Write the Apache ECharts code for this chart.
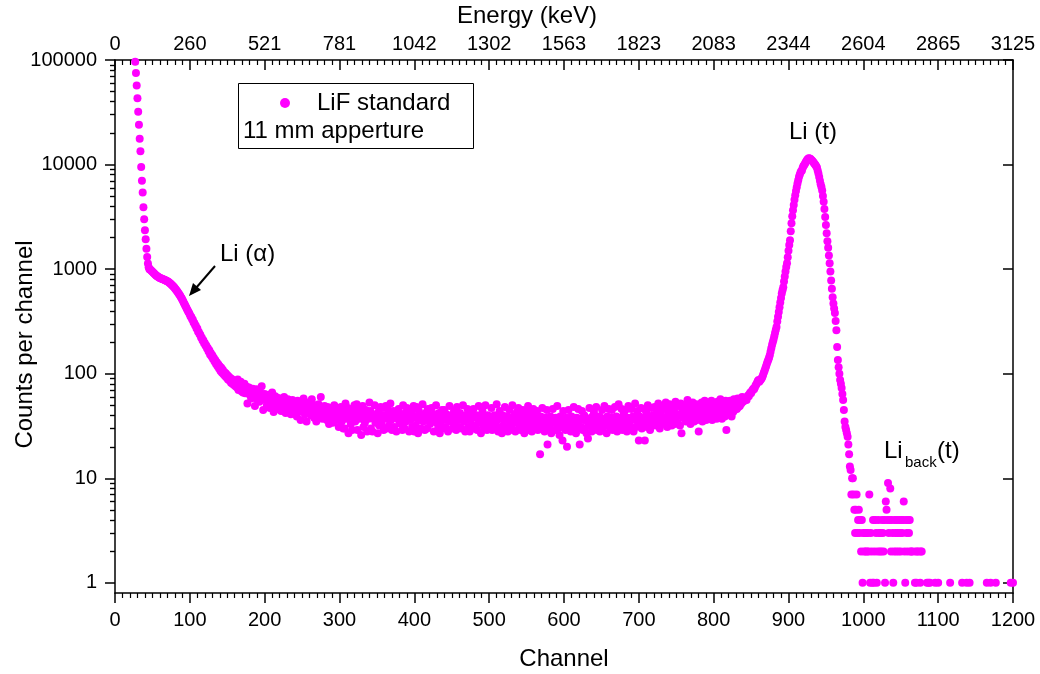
<!DOCTYPE html>
<html>
<head>
<meta charset="utf-8">
<script src="https://cdn.jsdelivr.net/npm/echarts@6/dist/echarts.min.js"></script>
<style>html,body{margin:0;padding:0;background:#fff}#c{width:1040px;height:674px}</style>
</head>
<body>
<div id="c"></div>
<script>
// ---- data ----
const energyLabels = ['0','260','521','781','1042','1302','1563','1823','2083','2344','2604','2865','3125'];
const yMajorTicks = [1, 10, 100, 1000, 10000, 100000];
const yMinorTicks = [2,3,4,5,6,7,8,9,20,30,40,50,60,70,80,90,200,300,400,500,600,700,800,900,2000,3000,4000,5000,6000,7000,8000,9000,20000,30000,40000,50000,60000,70000,80000,90000];

const steepStart = 27;
const steepCounts = [96000,75000,57000,43000,32000,24000,17700,13400,9500,7000,5400,3900,3000,2350,1930,1570,1310,1130,1040,
1000,990,975,960,945,930,915,900,885,870,860,850,840,832,825];

const shoulderStart = 61;
const shoulderCounts = [
818,812,806,800,795,790,785,778,772,765,757,748,738,728,718,706,694,682,670,656,
642,628,614,600,586,571,556,541,526,510,494,478,462,447,432,418,405,392,380,368,
352,349,331,328,309,306,290,288,271,270,252,251,238,236,222,221,208,209,196,197,
185,186,174,176,163,168,153,158,146,150,138,142,131,135,124,129,118,123,112,118,
106,114,102,109,99,104,95,101,92,97,88,94,86,91,82,89,80,86,78,83,
76,81,74,88,70,79,72,84,68,77,66,73,80,65,71,75,52,69,74,63,
70,58,66,72,60,67,49,64,71,57,62,68,54,66,59,76,61,45,58,64];

const plateauStart = 201;
const plateauCounts = [
56,62,50,60,55,63,47,58,52,66,54,43,57,61,49,55,59,46,53,50,
58,44,52,55,47,60,50,42,54,48,57,45,51,53,41,49,56,46,52,44,
50,47,39,55,45,48,52,36,46,50,43,58,44,41,49,35,47,53,42,45,
48,40,57,43,46,38,50,44,35,47,42,51,39,45,60,41,37,46,43,49,
40,44,36,48,42,33,45,39,47,41,34,43,50,38,42,36,45,40,31,44,
39,48,35,46,30,41,30,52,37,40,47,27,39,43,33,41,29,45,38,50,
35,40,51,29,38,46,37,41,26,39,49,31,40,34,45,38,28,42,37,53,
44,30,39,28,41,37,50,34,40,38,27,43,32,39,48,33,38,47,29,40,
37,49,30,39,45,32,38,52,36,29,40,44,31,38,42,28,39,37,46,34,
41,33,39,29,50,38,30,42,35,47,37,45,28,39,36,43,31,38,49,28,
39,32,48,37,27,44,36,40,30,38,51,35,39,29,42,37,30,46,36,40,
33,38,47,35,39,28,41,37,50,34,38,31,42,27,39,35,45,37,30,45,
38,31,41,36,28,39,49,35,37,40,30,38,44,32,39,29,48,36,38,31,
42,37,30,39,50,35,38,28,40,36,46,31,38,28,41,37,32,39,46,30,
38,32,40,29,37,49,34,39,27,36,44,32,38,30,50,37,29,40,33,39,
34,38,47,29,37,31,40,33,39,51,36,28,38,44,31,37,27,40,32,38,
48,30,37,39,28,36,45,34,38,31,50,29,37,40,28,36,43,34,47,32,
37,29,39,31,45,36,27,38,30,44,35,49,29,37,33,41,28,36,46,32,
38,30,36,44,29,37,34,17,39,32,47,30,36,28,38,34,45,21,33,37,
30,39,27,36,46,34,37,29,38,33,49,30,36,26,39,31,37,23,44,35,
36,29,38,20,33,45,30,37,28,39,31,36,48,30,37,27,38,33,46,31,
21,37,31,44,29,36,40,30,38,27,35,24,37,47,32,36,28,39,33,43,
30,37,48,29,36,31,39,28,38,33,45,30,37,49,32,36,27,39,33,46,
36,30,38,45,29,37,33,48,31,39,28,36,51,30,38,33,46,29,37,42,
31,45,36,28,38,49,33,37,30,46,36,39,28,38,52,31,37,44,33,23,
39,33,47,30,38,34,46,23,37,43,31,50,36,39,29,38,47,33,40,35,
48,32,38,45,34,52,39,30,43,37,49,33,38,46,34,53,39,31,45,38,
51,35,40,32,47,38,45,33,54,39,41,34,49,40,32,52,27,44,38,47,
39,50,35,41,56,37,46,40,33,48,39,53,41,35,47,40,51,36,45,28,
48,37,41,53,35,46,40,55,42,36,50,41,38,52,43,37,55,36,47,42,
51,38,45,37,54,42,49,39,57,44,37,52,43,50,39,55,29,47,42,53,
46,55,44,39,52,43,57,45,49,54,46,58,48,53,49,57,52,60,54,59];

const peakStart = 841;
const peakCounts = [
55,57,59,56,60,62,61,64,66,65,68,70,72,71,74,77,79,82,85,87,
84,86,88,90,93,97,102,107,112,118,124,130,136,142,150,162,175,188,200,212,
228,245,262,280,315,350,390,433,480,530,585,630,670,760,850,950,1050,1140,1300,1500,
1700,1890,2300,2750,3200,3650,4100,4600,5100,5600,6060,6600,7100,7600,8000,8400,8700,8800,9300,9700,
9900,10200,10500,10800,11100,11300,11500,11450,11350,11200,11000,10800,10600,10350,10100,9900,9650,9400,8800,8200,
7600,7000,6500,6100,5650,5000,4400,3750,3150,2650,2200,1850,1600,1350,1140,950,780,650,540,470,
420,380,320,260,180,135,115,100,87,80,73,64,56,45,35,31,29,27,25];

const tailChannels = [980,981,982,983,984,985,986,987,988,989,990,991,992,993,994,995,996,997,998,999,
1000,1001,1002,1003,1004,1005,1006,1007,1008,1009,1010,1011,1012,1013,1014,1015,1016,1017,1018,1019,
1020,1021,1022,1023,1024,1025,1026,1027,1028,1029,1030,1031,1032,1033,1034,1035,1036,1037,1038,1039,
1040,1041,1042,1043,1044,1045,1046,1047,1048,1049,1050,1051,1052,1053,1054,1055,1056,1057,1058,1059,
1060,1061,1062,1063,1064,1066,1069,1070,1071,1072,1074,1076,1077,1078,1085,1087,1089,1096,1100,1116,
1132,1138,1142,1165,1170,1177,1197,1200];
const tailCounts = [21,17,13,12,7,10,10,7,5,3,5,7,3,4,5,3,4,2,4,1,
3,2,3,2,3,2,3,2,7,1,3,2,1,4,1,2,4,3,1,2,
4,3,2,3,2,4,3,2,4,1,6,5,4,9,3,4,8,2,4,3,
1,2,4,3,2,4,3,2,4,3,2,4,3,4,6,2,1,4,3,2,
4,3,4,2,2,2,1,2,1,2,2,1,2,2,1,1,1,1,1,1,
1,1,1,1,1,1,1,1];

// ---- build series data ----
function seg(start, arr) { return arr.map((v, i) => [start + i, v]); }
const seriesData = [].concat(
  seg(steepStart, steepCounts),
  seg(shoulderStart, shoulderCounts),
  seg(plateauStart, plateauCounts),
  seg(peakStart, peakCounts),
  tailChannels.map((c, i) => [c, tailCounts[i]])
);

const FONT = 'Liberation Sans, Arial, sans-serif';
const black = '#000';
const MAGENTA = '#ff00ff';

function isPow10(v) { const l = Math.log10(v); return Math.abs(l - Math.round(l)) < 1e-6; }

const chart = echarts.init(document.getElementById('c'), null, { renderer: 'canvas' });
const yBase = { type: 'log', logBase: 10, min: 0.8, max: 100000, splitLine: { show: false } };

chart.setOption({
  animation: false,
  backgroundColor: '#fff',
  grid: { left: 115, right: 27, top: 60, bottom: 81, containLabel: false, outerBoundsMode: 'none' },
  legend: {
    show: true,
    left: 275, top: 86,
    itemWidth: 10, itemHeight: 10,
    icon: 'circle',
    selectedMode: false,
    textStyle: { fontFamily: FONT, fontSize: 24, color: black, padding: [0, 0, 0, 22] },
    data: [{ name: 'LiF standard', icon: 'circle', itemStyle: { color: MAGENTA, opacity: 1 } }]
  },
  xAxis: [
    {
      type: 'value', position: 'bottom', min: 0, max: 1200, interval: 100,
      name: 'Channel', nameLocation: 'middle', nameGap: 54, nameMoveOverlap: false,
      nameTextStyle: { fontFamily: FONT, fontSize: 24, color: black },
      axisLine: { show: true, onZero: false, lineStyle: { color: black, width: 1.5 } },
      axisTick: { show: true, length: 10, lineStyle: { color: black, width: 1.5 } },
      minorTick: { show: true, splitNumber: 10, length: 5, lineStyle: { color: black, width: 1.2 } },
      axisLabel: { fontFamily: FONT, fontSize: 20, color: black, margin: 17, formatter: (v) => String(v) },
      splitLine: { show: false }
    },
    {
      type: 'value', position: 'top', min: 0, max: 1200, interval: 100,
      name: 'Energy (keV)', nameLocation: 'middle', nameGap: 32, nameMoveOverlap: false,
      nameTextStyle: { fontFamily: FONT, fontSize: 24, color: black, padding: [0, 74, 0, 0] },
      axisLine: { show: true, onZero: false, lineStyle: { color: black, width: 1.5 } },
      axisTick: { show: true, inside: true, length: 10, lineStyle: { color: black, width: 1.5 } },
      minorTick: { show: true, splitNumber: 10, length: 5, lineStyle: { color: black, width: 1.2 } },
      axisLabel: { fontFamily: FONT, fontSize: 20, color: black, margin: 6,
        formatter: (v) => energyLabels[Math.round(v / 100)] },
      splitLine: { show: false }
    }
  ],
  yAxis: [
    Object.assign({}, yBase, {
      position: 'left',
      name: 'Counts per channel', nameLocation: 'middle', nameGap: 78, nameMoveOverlap: false,
      nameTextStyle: { fontFamily: FONT, fontSize: 24, color: black, padding: [0, 36, 0, 0] },
      axisLine: { show: true, onZero: false, lineStyle: { color: black, width: 1.5 } },
      axisTick: { show: true, length: 10, customValues: yMajorTicks, lineStyle: { color: black, width: 1.5 } },
      axisLabel: { fontFamily: FONT, fontSize: 20, color: black, margin: 18, customValues: yMajorTicks,
        formatter: (v) => isPow10(v) ? String(Math.round(v)) : '' }
    }),
    Object.assign({}, yBase, {
      position: 'left',
      axisLine: { show: false },
      axisTick: { show: true, length: 5, customValues: yMinorTicks, lineStyle: { color: black, width: 1.2 } },
      axisLabel: { show: false }
    }),
    Object.assign({}, yBase, {
      position: 'right',
      axisLine: { show: true, onZero: false, lineStyle: { color: black, width: 1.5 } },
      axisTick: { show: true, inside: true, length: 10, customValues: yMajorTicks, lineStyle: { color: black, width: 1.5 } },
      axisLabel: { show: false }
    }),
    Object.assign({}, yBase, {
      position: 'right',
      axisLine: { show: false },
      axisTick: { show: true, inside: true, length: 5, customValues: yMinorTicks, lineStyle: { color: black, width: 1.2 } },
      axisLabel: { show: false }
    })
  ],
  series: [{
    name: 'LiF standard',
    type: 'scatter',
    xAxisIndex: 0, yAxisIndex: 0,
    symbol: 'circle', symbolSize: 8,
    itemStyle: { color: MAGENTA, opacity: 1 },
    emphasis: { disabled: true },
    clip: false,
    data: seriesData
  }],
  graphic: [
    { type: 'rect', shape: { x: 238.5, y: 83.5, width: 235, height: 65 },
      style: { fill: 'none', stroke: black, lineWidth: 1 }, z: 10 },
    { type: 'text', left: 243, top: 119, z: 11,
      style: { text: '11 mm apperture', font: '24px ' + FONT, fill: black } },
    { type: 'text', left: 789, top: 120, z: 11,
      style: { text: 'Li (t)', font: '24px ' + FONT, fill: black } },
    { type: 'text', left: 220, top: 242, z: 11,
      style: { text: 'Li (\u03b1)', font: '24px ' + FONT, fill: black } },
    { type: 'text', left: 884, top: 439, z: 11,
      style: { text: 'Li', font: '24px ' + FONT, fill: black } },
    { type: 'text', left: 905, top: 455, z: 11,
      style: { text: 'back', font: '15px ' + FONT, fill: black } },
    { type: 'text', left: 937, top: 439, z: 11,
      style: { text: '(t)', font: '24px ' + FONT, fill: black } },
    { type: 'line', z: 11, shape: { x1: 215, y1: 266, x2: 196, y2: 288 },
      style: { stroke: black, lineWidth: 2 } },
    { type: 'polygon', z: 11, shape: { points: [[189, 296], [193, 283], [201, 290]] },
      style: { fill: black } }
  ]
});
</script>
</body>
</html>
